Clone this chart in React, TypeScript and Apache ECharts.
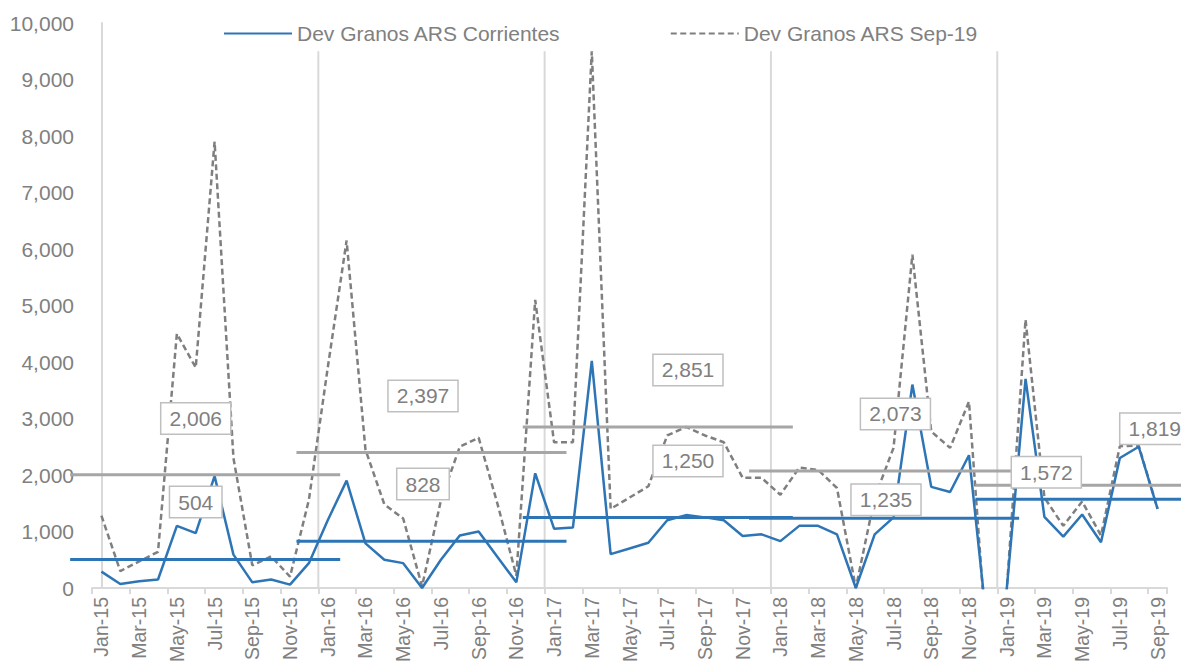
import React, { useEffect, useRef } from "react";
import * as echarts from "echarts";

// ---- Data ----
const MONTHS = ["Jan", "Feb", "Mar", "Apr", "May", "Jun", "Jul", "Aug", "Sep", "Oct", "Nov", "Dec"];
const YEARS = ["15", "16", "17", "18", "19"];
const categories: string[] = YEARS.flatMap((y) => MONTHS.map((m) => `${m}-${y}`)).slice(0, 57);

const SERIES_CURRENT = "Dev Granos ARS Corrientes";
const SERIES_REAL = "Dev Granos ARS Sep-19";

const corrientes = [
  290, 70, 120, 150, 1100, 970, 1980, 590, 100, 150, 60, 440,
  1200, 1900, 790, 500, 440, 0, 500, 930, 1000, 550, 100, 2030,
  1050, 1070, 4020, 600, 700, 800, 1200, 1290, 1250, 1200, 920, 950,
  830, 1100, 1100, 950, 0, 950, 1250, 3600, 1790, 1700, 2350, -800,
  -30, 3700, 1260, 910, 1300, 810, 2300, 2500, 1400,
];
const sep19 = [
  1280, 300, 470, 640, 4500, 3900, 7900, 2300, 400, 560, 200, 1560,
  3900, 6150, 2450, 1480, 1230, 30, 1550, 2500, 2660, 1490, 220, 5100,
  2580, 2580, 9500, 1400, 1600, 1800, 2700, 2850, 2700, 2580, 1950, 1950,
  1650, 2130, 2090, 1770, 0, 1600, 2480, 5900, 2770, 2480, 3300, -1260,
  -40, 4750, 1600, 1100, 1530, 930, 2510, 2520, 1400,
];
const avgCorrientes = [504, 828, 1250, 1235, 1572];
const avgSep19 = [2006, 2397, 2851, 2073, 1819];

const yTicks = { min: 0, max: 10000, interval: 1000 };

// ---- Layout (positions in axis units) ----
const AVG_LEFT_OVERHANG = 1.66;
const AVG_RIGHT_OVERHANG = 0.66;
const SEPARATOR_TOP = 9500;
const labelPosSep19: [number, number][] = [[5.0, 3000], [17.05, 3400], [31.1, 3860], [42.1, 3080], [55.85, 2820]];
const labelPosCorr: [number, number][] = [[5.0, 1520], [17.05, 1840], [31.1, 2250], [41.6, 1560], [50.1, 2050]];

const BLUE = "#2e75b6";
const GRAY_LINE = "#7f7f7f";
const GRAY_AVG = "#a6a6a6";
const AXIS_GRAY = "#d9d9d9";
const TEXT_GRAY = "#808080";
const FONT = "'Liberation Sans', Arial, sans-serif";

const fmt = (v: number) => v.toLocaleString("en-US");

export default function App() {
  const ref = useRef<HTMLDivElement>(null);

  useEffect(() => {
    if (!ref.current) return;
    const chart = echarts.init(ref.current, null, { renderer: "svg" });

    const separatorSeries = [12, 24, 36, 48].map((i) => ({
      type: "line",
      xAxisIndex: 1,
      data: [[i - 0.5, 0], [i - 0.5, SEPARATOR_TOP]],
      symbol: "none",
      lineStyle: { color: AXIS_GRAY, width: 2 },
      z: 1,
      silent: true,
    }));

    const avgSeries = (vals: number[], color: string, zz: number) => ({
      type: "custom",
      xAxisIndex: 1,
      z: zz,
      silent: true,
      data: vals.map((v, k) => [k * 12 - AVG_LEFT_OVERHANG, v, k * 12 + 12 + AVG_RIGHT_OVERHANG]),
      renderItem: (_p: any, api: any) => {
        const a = api.coord([api.value(0), api.value(1)]);
        const b = api.coord([api.value(2), api.value(1)]);
        return {
          type: "line",
          shape: { x1: a[0], y1: a[1], x2: b[0], y2: b[1] },
          style: { stroke: color, lineWidth: 3 },
        };
      },
    });

    const labelSeries = (vals: number[], pos: [number, number][]) => ({
      type: "custom",
      xAxisIndex: 1,
      z: 10,
      silent: true,
      data: vals.map((v, k) => [pos[k][0], pos[k][1], v]),
      renderItem: (_p: any, api: any) => {
        const c = api.coord([api.value(0), api.value(1)]);
        return {
          type: "text",
          x: c[0],
          y: c[1],
          z2: 10,
          style: {
            text: fmt(api.value(2)),
            fill: TEXT_GRAY,
            fontSize: 21,
            fontFamily: FONT,
            align: "center",
            verticalAlign: "middle",
            backgroundColor: "#ffffff",
            borderColor: "#bfbfbf",
            borderWidth: 1.5,
            padding: [5, 8, 4, 8],
          },
        };
      },
    });

    chart.setOption({
      animation: false,
      grid: { left: 92, right: 14, top: 23, bottom: 78, containLabel: false, outerBoundsMode: "none" },
      legend: {
        left: 218,
        top: 18,
        itemWidth: 68,
        itemHeight: 12,
        itemGap: 109,
        data: [SERIES_CURRENT, SERIES_REAL],
        itemStyle: { color: "transparent", borderColor: "transparent", borderWidth: 0 },
        textStyle: { color: TEXT_GRAY, fontSize: 21, fontFamily: FONT },
      },
      xAxis: [
        {
          type: "category",
          data: categories,
          boundaryGap: true,
          axisLine: { show: true, lineStyle: { color: AXIS_GRAY, width: 2 } },
          axisTick: { show: true, interval: 1, length: 6, alignWithLabel: false, lineStyle: { color: AXIS_GRAY, width: 2 } },
          axisLabel: { interval: 1, rotate: 90, fontSize: 19.5, color: TEXT_GRAY, fontFamily: FONT, margin: 9, hideOverlap: false },
          splitLine: { show: false },
        },
        { type: "value", min: -0.5, max: 56.5, show: false },
      ],
      yAxis: {
        type: "value",
        min: yTicks.min,
        max: yTicks.max,
        interval: yTicks.interval,
        axisLine: { show: true, lineStyle: { color: AXIS_GRAY, width: 2 } },
        axisTick: { show: false },
        splitLine: { show: false },
        axisLabel: { formatter: (v: number) => fmt(v), fontSize: 21, color: TEXT_GRAY, fontFamily: FONT, margin: 18 },
      },
      series: [
        ...separatorSeries,
        {
          name: SERIES_CURRENT,
          type: "line",
          data: corrientes,
          symbol: "none",
          lineStyle: { color: BLUE, width: 2.5 },
          itemStyle: { color: BLUE },
          z: 3,
        },
        {
          name: SERIES_REAL,
          type: "line",
          data: sep19,
          symbol: "none",
          lineStyle: { color: GRAY_LINE, width: 2.5, type: [6, 3.5] },
          itemStyle: { color: GRAY_LINE },
          z: 2,
        },
        avgSeries(avgSep19, GRAY_AVG, 4),
        avgSeries(avgCorrientes, BLUE, 5),
        labelSeries(avgSep19, labelPosSep19),
        labelSeries(avgCorrientes, labelPosCorr),
      ],
    });

    return () => chart.dispose();
  }, []);

  return (
    <div
      ref={ref}
      style={{ position: "fixed", left: 0, top: 0, width: 1181, height: 666, background: "#ffffff" }}
    />
  );
}
